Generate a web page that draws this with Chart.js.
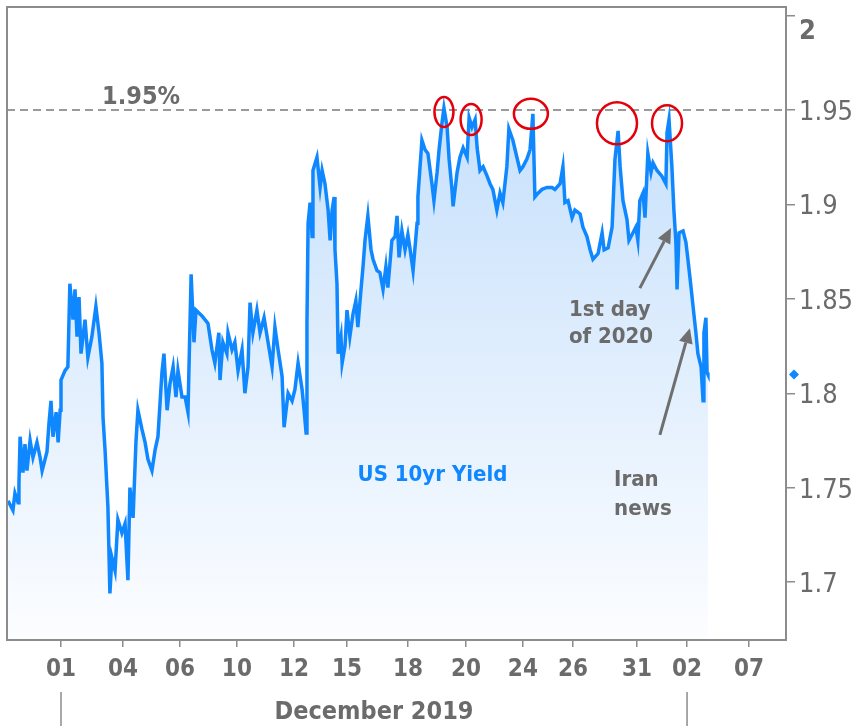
<!DOCTYPE html>
<html>
<head>
<meta charset="utf-8">
<title>US 10yr Yield</title>
<script src="https://cdn.jsdelivr.net/npm/chart.js@4.4.1/dist/chart.umd.min.js"></script>
<style>
  html, body { margin: 0; padding: 0; background: #fff; }
  #wrap { width: 856px; height: 726px; }
</style>
</head>
<body>
<div id="wrap"><canvas id="chart" width="856" height="726"></canvas></div>
<script>
// x = trading-day position (0 = Dec 01 open), y = US 10yr yield in %
const dayPos = [
  -1.85, -1.68, -1.61, -1.50, -1.47, -1.43, -1.33, -1.26, -1.19, -1.08,
  -0.98, -0.84, -0.73, -0.66, -0.49, -0.42, -0.35, -0.28, -0.17, -0.10,
  -0.03, 0.00, 0.14, 0.24, 0.31, 0.42, 0.49, 0.56, 0.63, 0.70,
  0.84, 0.94, 1.08, 1.22, 1.33, 1.43, 1.47, 1.54, 1.64, 1.71,
  1.78, 1.89, 1.99, 2.13, 2.24, 2.34, 2.41, 2.52, 2.62, 2.69,
  2.83, 2.94, 3.04, 3.18, 3.29, 3.39, 3.53, 3.60, 3.71, 3.81,
  3.92, 4.02, 4.09, 4.23, 4.34, 4.44, 4.55, 4.65, 4.72, 4.93,
  5.14, 5.28, 5.38, 5.52, 5.56, 5.66, 5.80, 5.84, 5.98, 6.08,
  6.19, 6.33, 6.43, 6.54, 6.61, 6.71, 6.85, 6.96, 7.10, 7.24,
  7.38, 7.48, 7.59, 7.73, 7.80, 7.94, 8.08, 8.18, 8.29, 8.43,
  8.50, 8.57, 8.60, 8.64, 8.71, 8.78, 8.81, 8.95, 9.06, 9.13,
  9.23, 9.34, 9.41, 9.48, 9.55, 9.58, 9.65, 9.69, 9.79, 9.83,
  9.93, 10.00, 10.10, 10.21, 10.31, 10.38, 10.49, 10.56, 10.63, 10.73,
  10.84, 10.91, 11.05, 11.15, 11.26, 11.36, 11.43, 11.57, 11.68, 11.75,
  11.82, 11.92, 12.03, 12.13, 12.20, 12.31, 12.45, 12.48, 12.62, 12.73,
  12.83, 12.97, 13.04, 13.15, 13.22, 13.32, 13.39, 13.50, 13.57, 13.67,
  13.71, 13.85, 13.95, 14.06, 14.20, 14.27, 14.37, 14.48, 14.55, 14.65,
  14.76, 14.90, 15.00, 15.10, 15.24, 15.35, 15.45, 15.59, 15.66, 15.80,
  15.94, 16.05, 16.15, 16.29, 16.40, 16.50, 16.57, 16.68, 16.82, 16.99,
  17.17, 17.27, 17.45, 17.55, 17.62, 17.73, 17.87, 17.97, 18.15, 18.25,
  18.39, 18.50, 18.60, 18.78, 18.92, 18.99, 19.13, 19.27, 19.37, 19.48,
  19.55, 19.65, 19.79, 19.86, 20.00, 20.10, 20.17, 20.24, 20.35, 20.42,
  20.52, 20.63, 20.70, 20.84, 21.01, 21.15, 21.19, 21.26, 21.36, 21.43,
  21.50, 21.54, 21.61, 21.75, 21.85, 21.92, 22.03, 22.10, 22.20, 22.27,
  22.38, 22.45, 22.48, 22.55, 22.59, 22.62
];
const yields = [
  1.743, 1.738, 1.747, 1.742, 1.752, 1.777, 1.758, 1.773, 1.759, 1.775,
  1.766, 1.774, 1.766, 1.759, 1.769, 1.784, 1.796, 1.777, 1.790, 1.774,
  1.791, 1.807, 1.812, 1.814, 1.858, 1.839, 1.855, 1.830, 1.851, 1.821,
  1.839, 1.819, 1.830, 1.846, 1.832, 1.816, 1.787, 1.770, 1.740, 1.694,
  1.713, 1.706, 1.733, 1.726, 1.731, 1.701, 1.750, 1.734, 1.774, 1.791,
  1.781, 1.774, 1.765, 1.759, 1.770, 1.777, 1.811, 1.821, 1.791, 1.805,
  1.814, 1.798, 1.812, 1.798, 1.798, 1.790, 1.863, 1.827, 1.844, 1.841,
  1.837, 1.823, 1.816, 1.832, 1.807, 1.827, 1.821, 1.832, 1.823, 1.827,
  1.812, 1.823, 1.800, 1.814, 1.848, 1.832, 1.844, 1.832, 1.840, 1.827,
  1.814, 1.835, 1.823, 1.809, 1.782, 1.800, 1.796, 1.802, 1.816, 1.802,
  1.791, 1.779, 1.837, 1.890, 1.901, 1.883, 1.918, 1.925, 1.909, 1.918,
  1.911, 1.897, 1.881, 1.897, 1.904, 1.876, 1.858, 1.821, 1.830, 1.816,
  1.825, 1.844, 1.830, 1.842, 1.849, 1.835, 1.855, 1.867, 1.881, 1.894,
  1.876, 1.871, 1.865, 1.864, 1.855, 1.867, 1.856, 1.881, 1.883, 1.894,
  1.872, 1.886, 1.876, 1.884, 1.877, 1.865, 1.890, 1.904, 1.934, 1.929,
  1.927, 1.911, 1.902, 1.917, 1.929, 1.943, 1.951, 1.941, 1.924, 1.908,
  1.899, 1.917, 1.925, 1.930, 1.925, 1.946, 1.941, 1.945, 1.930, 1.918,
  1.920, 1.915, 1.911, 1.908, 1.897, 1.906, 1.901, 1.920, 1.940, 1.934,
  1.925, 1.918, 1.920, 1.924, 1.929, 1.948, 1.904, 1.906, 1.908, 1.909,
  1.909, 1.908, 1.911, 1.920, 1.901, 1.902, 1.893, 1.897, 1.895, 1.888,
  1.883, 1.876, 1.871, 1.874, 1.885, 1.876, 1.877, 1.888, 1.924, 1.939,
  1.920, 1.902, 1.892, 1.881, 1.885, 1.888, 1.881, 1.902, 1.906, 1.893,
  1.927, 1.917, 1.922, 1.918, 1.915, 1.911, 1.938, 1.945, 1.920, 1.897,
  1.880, 1.855, 1.885, 1.886, 1.880, 1.871, 1.856, 1.846, 1.832, 1.821,
  1.814, 1.796, 1.832, 1.840, 1.811, 1.810
];

const tickPos = [0, 2.17, 4.16, 6.15, 8.15, 10.0, 12.13, 14.16, 16.15, 17.90, 20.14, 21.89, 24.06];
const tickLabels = ['01', '04', '06', '10', '12', '15', '18', '20', '24', '26', '31', '02', '07'];
const yTicks = [1.7, 1.75, 1.8, 1.85, 1.9, 1.95, 2];
const capLevel = 1.95;
const peakDays = [13.39, 14.34, 16.43, 19.44, 21.19];
const peakVals = [1.949, 1.945, 1.948, 1.943, 1.943];

const FONT = "'DejaVu Sans Condensed', 'DejaVu Sans', sans-serif";
const BLUE = '#0f87ff';
const GREY = '#6b6b6b';

// annotation layout (data units), kept apart from the series
const notes = {
  capLabel: { x: 2.80, y: 1.9569, text: '1.95%' },
  seriesLabel: { x: 12.99, y: 1.7567, text: 'US 10yr Yield' },
  newYear: { x: 17.76, y: [1.8441, 1.8298], text: ['1st day', 'of 2020'] },
  iran: { x: 19.34, y: [1.7540, 1.7387], text: ['Iran', 'news'] },
  arrows: [
    { from: [20.24, 1.8557], to: [21.33, 1.8875] },
    { from: [20.94, 1.7780], to: [21.99, 1.8345] }
  ],
  ringSize: [[9.5, 15], [10.5, 15.5], [17, 15], [20, 21], [15, 18]]
};

function drawArrow(ctx, x1, y1, x2, y2) {
  const ang = Math.atan2(y2 - y1, x2 - x1);
  const head = 15, half = 7;
  const bx = x2 - head * Math.cos(ang), by = y2 - head * Math.sin(ang);
  ctx.beginPath();
  ctx.moveTo(x1, y1);
  ctx.lineTo(bx, by);
  ctx.stroke();
  ctx.beginPath();
  ctx.moveTo(x2, y2);
  ctx.lineTo(bx + half * Math.sin(ang), by - half * Math.cos(ang));
  ctx.lineTo(bx - half * Math.sin(ang), by + half * Math.cos(ang));
  ctx.closePath();
  ctx.fill();
}

const annotate = {
  id: 'annotate',
  beforeDatasetsDraw(chart) {
    const { ctx, chartArea: a, scales: { y } } = chart;
    const yy = y.getPixelForValue(capLevel);
    ctx.save();
    ctx.strokeStyle = '#9a9a9a';
    ctx.lineWidth = 2;
    ctx.setLineDash([8, 5]);
    ctx.beginPath();
    ctx.moveTo(a.left, yy);
    ctx.lineTo(a.right, yy);
    ctx.stroke();
    ctx.restore();
  },
  afterDatasetsDraw(chart) {
    const { ctx, scales: { x, y } } = chart;
    ctx.save();

    // red rings round the tops near 1.95
    ctx.strokeStyle = '#e3000b';
    ctx.lineWidth = 2.5;
    peakDays.forEach((d, i) => {
      const [rx, ry] = notes.ringSize[i];
      ctx.beginPath();
      ctx.ellipse(x.getPixelForValue(d), y.getPixelForValue(peakVals[i]), rx, ry, 0, 0, Math.PI * 2);
      ctx.stroke();
    });

    // arrows
    ctx.strokeStyle = '#6f6f6f';
    ctx.fillStyle = '#6f6f6f';
    ctx.lineWidth = 3;
    notes.arrows.forEach(ar => {
      drawArrow(ctx,
        x.getPixelForValue(ar.from[0]), y.getPixelForValue(ar.from[1]),
        x.getPixelForValue(ar.to[0]), y.getPixelForValue(ar.to[1]));
    });

    // texts
    ctx.textBaseline = 'middle';
    ctx.fillStyle = GREY;
    ctx.font = 'bold 25px ' + FONT;
    ctx.textAlign = 'center';
    ctx.fillText(notes.capLabel.text, x.getPixelForValue(notes.capLabel.x), y.getPixelForValue(notes.capLabel.y));

    ctx.font = 'bold 22px ' + FONT;
    ctx.fillStyle = BLUE;
    ctx.fillText(notes.seriesLabel.text, x.getPixelForValue(notes.seriesLabel.x), y.getPixelForValue(notes.seriesLabel.y));

    ctx.fillStyle = GREY;
    ctx.textAlign = 'left';
    [notes.newYear, notes.iran].forEach(n => {
      n.text.forEach((t, i) => {
        ctx.fillText(t, x.getPixelForValue(n.x), y.getPixelForValue(n.y[i]));
      });
    });
    ctx.restore();
  },
  afterDraw(chart) {
    const { ctx, chartArea: a, scales: { x, y } } = chart;
    ctx.save();
    // plot frame
    ctx.strokeStyle = '#8c8c8c';
    ctx.lineWidth = 2;
    ctx.strokeRect(a.left, a.top, a.right - a.left, a.bottom - a.top);

    // last value marker on the axis
    const ly = y.getPixelForValue(yields[yields.length - 1]);
    ctx.fillStyle = BLUE;
    ctx.beginPath();
    ctx.moveTo(a.right + 8, ly - 5);
    ctx.lineTo(a.right + 13, ly);
    ctx.lineTo(a.right + 8, ly + 5);
    ctx.lineTo(a.right + 3, ly);
    ctx.closePath();
    ctx.fill();

    // month band
    const x0 = x.getPixelForValue(tickPos[0]);
    const x1 = x.getPixelForValue(tickPos[11]);
    ctx.strokeStyle = '#8c8c8c';
    ctx.lineWidth = 1.5;
    ctx.beginPath();
    ctx.moveTo(x0, 692); ctx.lineTo(x0, chart.height);
    ctx.moveTo(x1, 692); ctx.lineTo(x1, chart.height);
    ctx.stroke();
    ctx.fillStyle = GREY;
    ctx.font = 'bold 25px ' + FONT;
    ctx.textAlign = 'center';
    ctx.textBaseline = 'middle';
    ctx.fillText('December 2019', (x0 + x1) / 2, 712);
    ctx.restore();
  }
};

const ctx = document.getElementById('chart').getContext('2d');
new Chart(ctx, {
  type: 'line',
  data: {
    datasets: [{
      label: 'US 10yr Yield',
      data: dayPos.map((d, i) => ({ x: d, y: yields[i] })),
      borderColor: BLUE,
      borderWidth: 3.5,
      pointRadius: 0,
      tension: 0,
      fill: 'start',
      backgroundColor: (c) => {
        const a = c.chart.chartArea;
        if (!a) return 'rgba(0,0,0,0)';
        const g = c.chart.ctx.createLinearGradient(0, a.top, 0, a.bottom);
        g.addColorStop(0, '#bcdbfb');
        g.addColorStop(1, '#fcfdff');
        return g;
      }
    }]
  },
  options: {
    responsive: false,
    animation: false,
    devicePixelRatio: 1,
    layout: { padding: { left: 7, top: 7, right: 0, bottom: 0 } },
    plugins: {
      legend: { display: false },
      tooltip: { enabled: false }
    },
    scales: {
      x: {
        type: 'linear',
        min: -1.888,
        max: 25.35,
        afterBuildTicks: (s) => { s.ticks = tickPos.map(v => ({ value: v })); },
        afterFit: (s) => { s.height = 86; s.paddingLeft = 0; s.paddingRight = 0; },
        border: { display: false },
        grid: { drawOnChartArea: false, tickLength: 7, color: '#8c8c8c', lineWidth: 1.5 },
        ticks: {
          autoSkip: false,
          maxRotation: 0,
          padding: 8,
          color: GREY,
          font: { family: FONT, size: 24, weight: 'bold' },
          callback: (v, i) => tickLabels[i]
        }
      },
      y: {
        position: 'right',
        min: 1.6693,
        max: 2.0046,
        afterBuildTicks: (s) => { s.ticks = yTicks.map(v => ({ value: v })); },
        afterFit: (s) => { s.width = 70; s.paddingTop = 0; s.paddingBottom = 0; },
        border: { display: false },
        grid: { drawOnChartArea: false, tickLength: 9, color: '#8c8c8c', lineWidth: 1.5 },
        ticks: {
          padding: 4,
          labelOffset: 3,
          color: GREY,
          font: (c) => (c.tick && c.tick.value === 2)
            ? { family: FONT, size: 27, weight: 'bold', lineHeight: 1 }
            : { family: FONT, size: 27, weight: 'normal' },
          // the top label sits a line below its tick, as in the source chart
          callback: (v) => v === 2 ? ['', '2'] : String(Math.round(v * 100) / 100)
        }
      }
    }
  },
  plugins: [annotate]
});
</script>
</body>
</html>
